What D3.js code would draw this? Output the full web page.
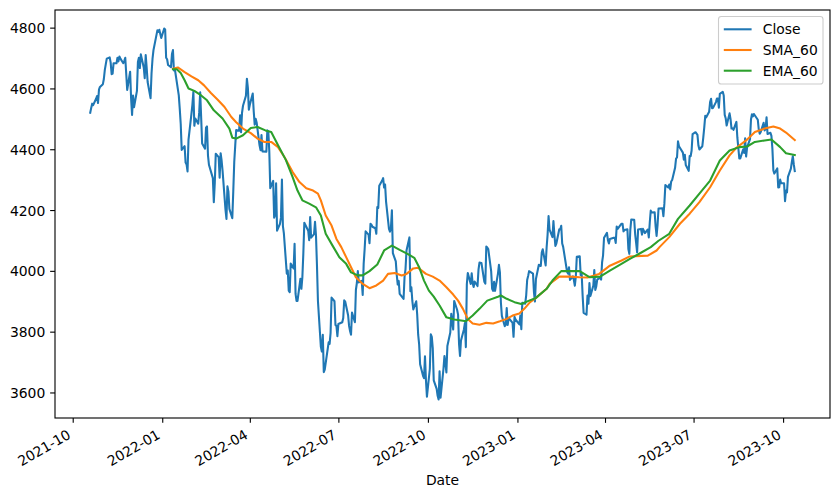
<!DOCTYPE html>
<html><head><meta charset="utf-8">
<script src="https://cdn.jsdelivr.net/npm/d3@7"></script>
<style>body{margin:0;background:#fff} svg{display:block;font-family:"DejaVu Sans",sans-serif}</style>
</head><body><svg id="c" width="840" height="498"></svg>
<script>
// ---- Close: [month, [[day, close], ...]] ----
const closeMonths = [
["2021-10",[[19,4520],[20,4536],[21,4550],[22,4545],[25,4566],[26,4575],[27,4552],[28,4596],[29,4605]]],
["2021-11",[[1,4614],[2,4631],[3,4661],[4,4680],[5,4698],[8,4702],[9,4685],[10,4647],[11,4649],[12,4683],[15,4683],[16,4701],[17,4689],[18,4705],[19,4698],[22,4683],[23,4691],[24,4701],[26,4595],[29,4655],[30,4567]]],
["2021-12",[[1,4513],[2,4577],[3,4538],[6,4592],[7,4687],[8,4701],[9,4667],[10,4712],[13,4669],[14,4634],[15,4710],[16,4669],[17,4621],[20,4568],[21,4649],[22,4697],[23,4726],[27,4791],[28,4786],[29,4793],[30,4779],[31,4766]]],
["2022-01",[[3,4797],[4,4794],[5,4701],[6,4696],[7,4677],[10,4670],[11,4713],[12,4726],[13,4659],[14,4663],[18,4577],[19,4533],[20,4483],[21,4398],[24,4410],[25,4356],[26,4350],[27,4327],[28,4432],[31,4516]]],
["2022-02",[[1,4547],[2,4589],[3,4477],[4,4501],[7,4484],[8,4522],[9,4587],[10,4504],[11,4419],[14,4402],[15,4471],[16,4475],[17,4380],[18,4349],[22,4305],[23,4226],[24,4289],[25,4385],[28,4374]]],
["2022-03",[[1,4306],[2,4387],[3,4363],[4,4329],[7,4201],[8,4171],[9,4278],[10,4260],[11,4204],[14,4173],[15,4262],[16,4358],[17,4412],[18,4463],[21,4461],[22,4512],[23,4456],[24,4520],[25,4543],[28,4576],[29,4632],[30,4602],[31,4530]]],
["2022-04",[[1,4546],[4,4583],[5,4525],[6,4481],[7,4500],[8,4488],[11,4413],[12,4397],[13,4447],[14,4393],[18,4392],[19,4462],[20,4459],[21,4394],[22,4272],[25,4296],[26,4175],[27,4184],[28,4288],[29,4132]]],
["2022-05",[[2,4155],[3,4175],[4,4300],[5,4147],[6,4123],[9,3991],[10,4001],[11,3935],[12,3930],[13,4024],[16,4008],[17,4089],[18,3924],[19,3901],[20,3901],[23,3974],[24,3941],[25,3979],[26,4058],[27,4158],[31,4132]]],
["2022-06",[[1,4101],[2,4177],[3,4109],[6,4121],[7,4161],[8,4116],[9,4018],[10,3901],[13,3750],[14,3735],[15,3790],[16,3667],[17,3675],[21,3765],[22,3760],[23,3796],[24,3912],[27,3900],[28,3822],[29,3819],[30,3785]]],
["2022-07",[[1,3825],[5,3831],[6,3845],[7,3903],[8,3899],[11,3854],[12,3819],[13,3802],[14,3790],[15,3863],[18,3831],[19,3937],[20,3960],[21,3999],[22,3962],[25,3967],[26,3921],[27,4024],[28,4072],[29,4130]]],
["2022-08",[[1,4119],[2,4091],[3,4155],[4,4152],[5,4145],[8,4140],[9,4122],[10,4210],[11,4207],[12,4280],[15,4297],[16,4305],[17,4274],[18,4284],[19,4228],[22,4138],[23,4129],[24,4141],[25,4199],[26,4058],[29,4031],[30,3986],[31,3955]]],
["2022-09",[[1,3967],[2,3924],[6,3908],[7,3980],[8,4006],[9,4067],[12,4110],[13,3933],[14,3946],[15,3901],[16,3873],[19,3900],[20,3856],[21,3790],[22,3758],[23,3693],[26,3655],[27,3647],[28,3719],[29,3640],[30,3586]]],
["2022-10",[[3,3678],[4,3791],[5,3783],[6,3745],[7,3640],[10,3612],[11,3589],[12,3577],[13,3670],[14,3583],[17,3678],[18,3720],[19,3695],[20,3666],[21,3753],[24,3797],[25,3859],[26,3831],[27,3807],[28,3901],[31,3872]]],
["2022-11",[[1,3856],[2,3760],[3,3720],[4,3771],[7,3807],[8,3828],[9,3749],[10,3956],[11,3993],[14,3957],[15,3992],[16,3959],[17,3947],[18,3965],[21,3950],[22,4004],[23,4027],[25,4026],[28,3964],[29,3958],[30,4080]]],
["2022-12",[[1,4077],[2,4072],[5,3999],[6,3941],[7,3934],[8,3964],[9,3934],[12,3991],[13,4020],[14,3995],[15,3896],[16,3852],[19,3818],[20,3822],[21,3878],[22,3822],[23,3845],[27,3829],[28,3783],[29,3849],[30,3840]]],
["2023-01",[[3,3824],[4,3853],[5,3808],[6,3895],[9,3892],[10,3919],[11,3970],[12,3983],[13,3999],[17,3991],[18,3929],[19,3899],[20,3973],[23,4020],[24,4017],[25,4016],[26,4060],[27,4071],[30,4018],[31,4077]]],
["2023-02",[[1,4119],[2,4180],[3,4136],[6,4111],[7,4164],[8,4118],[9,4082],[10,4090],[13,4137],[14,4136],[15,4148],[16,4090],[17,4079],[21,3997],[22,3991],[23,4012],[24,3970],[27,3982],[28,3970]]],
["2023-03",[[1,3951],[2,3981],[3,4046],[6,4048],[7,3986],[8,3992],[9,3918],[10,3862],[13,3856],[14,3919],[15,3892],[16,3960],[17,3917],[20,3952],[21,4003],[22,3937],[23,3949],[24,3971],[27,3978],[28,3971],[29,4028],[30,4051],[31,4109]]],
["2023-04",[[3,4125],[4,4101],[5,4090],[6,4105],[10,4109],[11,4109],[12,4092],[13,4146],[14,4138],[17,4151],[18,4155],[19,4155],[20,4130],[21,4134],[24,4137],[25,4072],[26,4056],[27,4135],[28,4169]]],
["2023-05",[[1,4168],[2,4120],[3,4091],[4,4061],[5,4136],[8,4138],[9,4119],[10,4138],[11,4131],[12,4124],[15,4136],[16,4110],[17,4159],[18,4198],[19,4192],[22,4193],[23,4146],[24,4115],[25,4151],[26,4205],[30,4206],[31,4180]]],
["2023-06",[[1,4221],[2,4282],[5,4274],[6,4284],[7,4268],[8,4294],[9,4299],[12,4339],[13,4369],[14,4373],[15,4426],[16,4410],[20,4389],[21,4366],[22,4382],[23,4348],[26,4329],[27,4378],[28,4377],[29,4396],[30,4450]]],
["2023-07",[[3,4456],[5,4447],[6,4412],[7,4399],[10,4410],[11,4439],[12,4472],[13,4510],[14,4505],[17,4523],[18,4555],[19,4566],[20,4535],[21,4536],[24,4555],[25,4567],[26,4567],[27,4537],[28,4582],[31,4589]]],
["2023-08",[[1,4577],[2,4513],[3,4502],[4,4478],[7,4518],[8,4499],[9,4468],[10,4469],[11,4464],[14,4490],[15,4438],[16,4404],[17,4370],[18,4370],[21,4400],[22,4388],[23,4436],[24,4376],[25,4406],[28,4433],[29,4498],[30,4515],[31,4508]]],
["2023-09",[[1,4516],[5,4497],[6,4465],[7,4451],[8,4457],[11,4487],[12,4462],[13,4467],[14,4505],[15,4450],[18,4454],[19,4444],[20,4402],[21,4330],[22,4320],[25,4337],[26,4274],[27,4275],[28,4300],[29,4288]]],
["2023-10",[[2,4288],[3,4229],[4,4264],[5,4258],[6,4309],[9,4336],[10,4358],[11,4377],[12,4350],[13,4328]]]
];

// ---- SMA_60 ----
const smaPoints = [
["2022-01-12",4665],["2022-01-17",4669],["2022-01-24",4654],["2022-01-31",4640],["2022-02-07",4627],["2022-02-13",4610],["2022-02-20",4585],["2022-02-27",4563],["2022-03-06",4539],["2022-03-13",4506],["2022-03-18",4489],["2022-03-25",4468],["2022-04-02",4453],["2022-04-09",4435],["2022-04-16",4424],["2022-04-23",4424],["2022-04-30",4407],["2022-05-07",4372],["2022-05-15",4325],["2022-05-22",4292],["2022-05-29",4272],["2022-06-05",4264],["2022-06-10",4254],["2022-06-13",4232],["2022-06-18",4182],["2022-06-24",4149],["2022-06-29",4105],["2022-07-04",4078],["2022-07-09",4045],["2022-07-14",4012],["2022-07-19",3979],["2022-07-26",3957],["2022-08-02",3943],["2022-08-09",3952],["2022-08-16",3968],["2022-08-21",3990],["2022-08-28",3993],["2022-09-04",3985],["2022-09-09",3990],["2022-09-16",4008],["2022-09-21",4010],["2022-09-29",3990],["2022-10-06",3981],["2022-10-13",3968],["2022-10-20",3946],["2022-10-27",3922],["2022-11-01",3902],["2022-11-06",3875],["2022-11-11",3842],["2022-11-16",3827],["2022-11-23",3823],["2022-11-30",3829],["2022-12-07",3827],["2022-12-14",3834],["2022-12-21",3842],["2022-12-27",3853],["2023-01-03",3860],["2023-01-08",3875],["2023-01-14",3897],["2023-01-20",3911],["2023-01-31",3941],["2023-02-03",3957],["2023-02-13",3981],["2023-02-24",3981],["2023-03-06",3979],["2023-03-14",3978],["2023-03-26",3990],["2023-04-06",4017],["2023-04-18",4034],["2023-04-26",4047],["2023-05-15",4050],["2023-05-24",4067],["2023-05-27",4078],["2023-06-06",4111],["2023-06-17",4155],["2023-06-27",4188],["2023-07-07",4226],["2023-07-18",4275],["2023-07-28",4330],["2023-08-07",4380],["2023-08-14",4405],["2023-08-24",4429],["2023-09-02",4457],["2023-09-12",4468],["2023-09-21",4475],["2023-09-28",4468],["2023-10-04",4455],["2023-10-13",4430]
];

// ---- EMA_60 ----
const emaPoints = [
["2022-01-12",4663],["2022-01-16",4663],["2022-01-20",4651],["2022-01-24",4627],["2022-01-28",4600],["2022-02-03",4592],["2022-02-10",4577],["2022-02-16",4561],["2022-02-23",4528],["2022-03-04",4501],["2022-03-11",4468],["2022-03-14",4438],["2022-03-18",4435],["2022-03-25",4446],["2022-04-02",4470],["2022-04-09",4473],["2022-04-17",4462],["2022-04-23",4457],["2022-04-30",4413],["2022-05-08",4365],["2022-05-15",4308],["2022-05-20",4264],["2022-05-25",4232],["2022-06-01",4221],["2022-06-08",4209],["2022-06-13",4182],["2022-06-18",4122],["2022-06-25",4083],["2022-07-02",4045],["2022-07-09",4023],["2022-07-14",3995],["2022-07-21",3985],["2022-07-26",3985],["2022-08-02",3999],["2022-08-10",4021],["2022-08-17",4067],["2022-08-25",4083],["2022-09-02",4069],["2022-09-10",4056],["2022-09-17",4043],["2022-09-22",4012],["2022-09-27",3968],["2022-10-02",3935],["2022-10-07",3915],["2022-10-13",3886],["2022-10-20",3847],["2022-10-28",3840],["2022-11-06",3836],["2022-11-09",3834],["2022-11-16",3853],["2022-11-23",3875],["2022-12-01",3902],["2022-12-12",3915],["2022-12-15",3919],["2022-12-21",3908],["2022-12-29",3897],["2023-01-05",3891],["2023-01-13",3902],["2023-01-20",3911],["2023-01-31",3941],["2023-02-06",3968],["2023-02-15",3999],["2023-02-27",3999],["2023-03-06",3999],["2023-03-16",3979],["2023-03-27",3981],["2023-04-06",4001],["2023-04-17",4021],["2023-04-27",4040],["2023-05-07",4058],["2023-05-18",4078],["2023-05-26",4099],["2023-06-06",4122],["2023-06-15",4171],["2023-06-27",4215],["2023-07-07",4254],["2023-07-18",4297],["2023-07-28",4363],["2023-08-07",4396],["2023-08-17",4407],["2023-08-25",4409],["2023-09-02",4424],["2023-09-12",4429],["2023-09-19",4432],["2023-09-28",4407],["2023-10-04",4387],["2023-10-13",4381]
];

const yTickValues = [3600, 3800, 4000, 4200, 4400, 4600, 4800];
const xTickLabels = ["2021-10","2022-01","2022-04","2022-07","2022-10","2023-01","2023-04","2023-07","2023-10"];
const seriesNames = ["Close", "SMA_60", "EMA_60"];
const seriesColors = ["#1f77b4", "#ff7f0e", "#2ca02c"];

const parseDay = d3.timeParse("%Y-%m-%d");
const parseMonth = d3.timeParse("%Y-%m");
const pad2 = n => String(n).padStart(2, "0");
const closeData = closeMonths.flatMap(([m, pts]) => pts.map(([d, v]) => ({date: parseDay(m + "-" + pad2(d)), value: v})));
const smaData = smaPoints.map(([d, v]) => ({date: parseDay(d), value: v}));
const emaData = emaPoints.map(([d, v]) => ({date: parseDay(d), value: v}));

const L = 55, R = 830, T = 10, B = 418;
const FS = 13.9;

const [d0, d1] = d3.extent(closeData, d => d.date);
const span = d1 - d0;
const x = d3.scaleTime().domain([new Date(+d0 - span * 0.05), new Date(+d1 + span * 0.05)]).range([L, R]);
const allVals = closeData.concat(smaData, emaData).map(d => d.value);
const [v0, v1] = d3.extent(allVals);
const vs = v1 - v0;
const y = d3.scaleLinear().domain([v0 - vs * 0.05, v1 + vs * 0.05]).range([B, T]);

const svg = d3.select("#c");
svg.append("rect").attr("width", 840).attr("height", 498).attr("fill", "#fff");

const g = svg.append("g");
const clip = svg.append("clipPath").attr("id", "clip");
clip.append("rect").attr("x", L).attr("y", T).attr("width", R - L).attr("height", B - T);

const line = d3.line().x(d => x(d.date)).y(d => y(d.value));
const plot = g.append("g").attr("clip-path", "url(#clip)");
[closeData, smaData, emaData].forEach((data, i) => {
  plot.append("path").datum(data).attr("d", line)
    .attr("fill", "none").attr("stroke", seriesColors[i]).attr("stroke-width", 2.08)
    .attr("stroke-linejoin", "round").attr("stroke-linecap", "square");
});

// Y axis
const yAxis = d3.axisLeft(y).tickValues(yTickValues).tickFormat(d3.format("d")).tickSize(4.86).tickPadding(4.86);
const yg = g.append("g").attr("transform", `translate(${L},0)`).call(yAxis);
yg.select(".domain").remove();
yg.selectAll(".tick line").attr("stroke", "#000").attr("stroke-width", 1.11);
yg.selectAll(".tick text").attr("font-size", FS).attr("font-family", "DejaVu Sans").attr("fill", "#000").attr("dy", "0.36em");

// X axis
const xTicks = xTickLabels.map(parseMonth);
const xAxis = d3.axisBottom(x).tickValues(xTicks).tickFormat(d3.timeFormat("%Y-%m")).tickSize(4.86).tickPadding(0);
const xg = g.append("g").attr("transform", `translate(0,${B})`).call(xAxis);
xg.select(".domain").remove();
xg.selectAll(".tick line").attr("stroke", "#000").attr("stroke-width", 1.11);
xg.selectAll(".tick text")
  .attr("font-size", FS).attr("font-family", "DejaVu Sans").attr("fill", "#000")
  .attr("y", 0).attr("dy", 0).attr("text-anchor", "end")
  .attr("transform", "translate(-1.5,19.5) rotate(-30)");

// Spines
g.append("rect").attr("x", L).attr("y", T).attr("width", R - L).attr("height", B - T)
  .attr("fill", "none").attr("stroke", "#000").attr("stroke-width", 1.11);

// X label
svg.append("text").attr("x", (L + R) / 2).attr("y", 485).attr("text-anchor", "middle")
  .attr("font-size", FS).attr("fill", "#000").text("Date");

// Legend
const lg = svg.append("g");
lg.append("rect").attr("x", 718.5).attr("y", 16.5).attr("width", 104.5).attr("height", 67.5)
  .attr("rx", 2.8).attr("fill", "#fff").attr("fill-opacity", 0.8).attr("stroke", "#cccccc").attr("stroke-width", 1.1);
seriesNames.forEach((name, i) => {
  const cy = 29.3 + i * 20.7;
  lg.append("line").attr("x1", 723.8).attr("x2", 751.6).attr("y1", cy).attr("y2", cy)
    .attr("stroke", seriesColors[i]).attr("stroke-width", 2.08);
  lg.append("text").attr("x", 762.8).attr("y", cy).attr("dy", "0.36em")
    .attr("font-size", FS).attr("fill", "#000").text(name);
});
</script></body></html>
